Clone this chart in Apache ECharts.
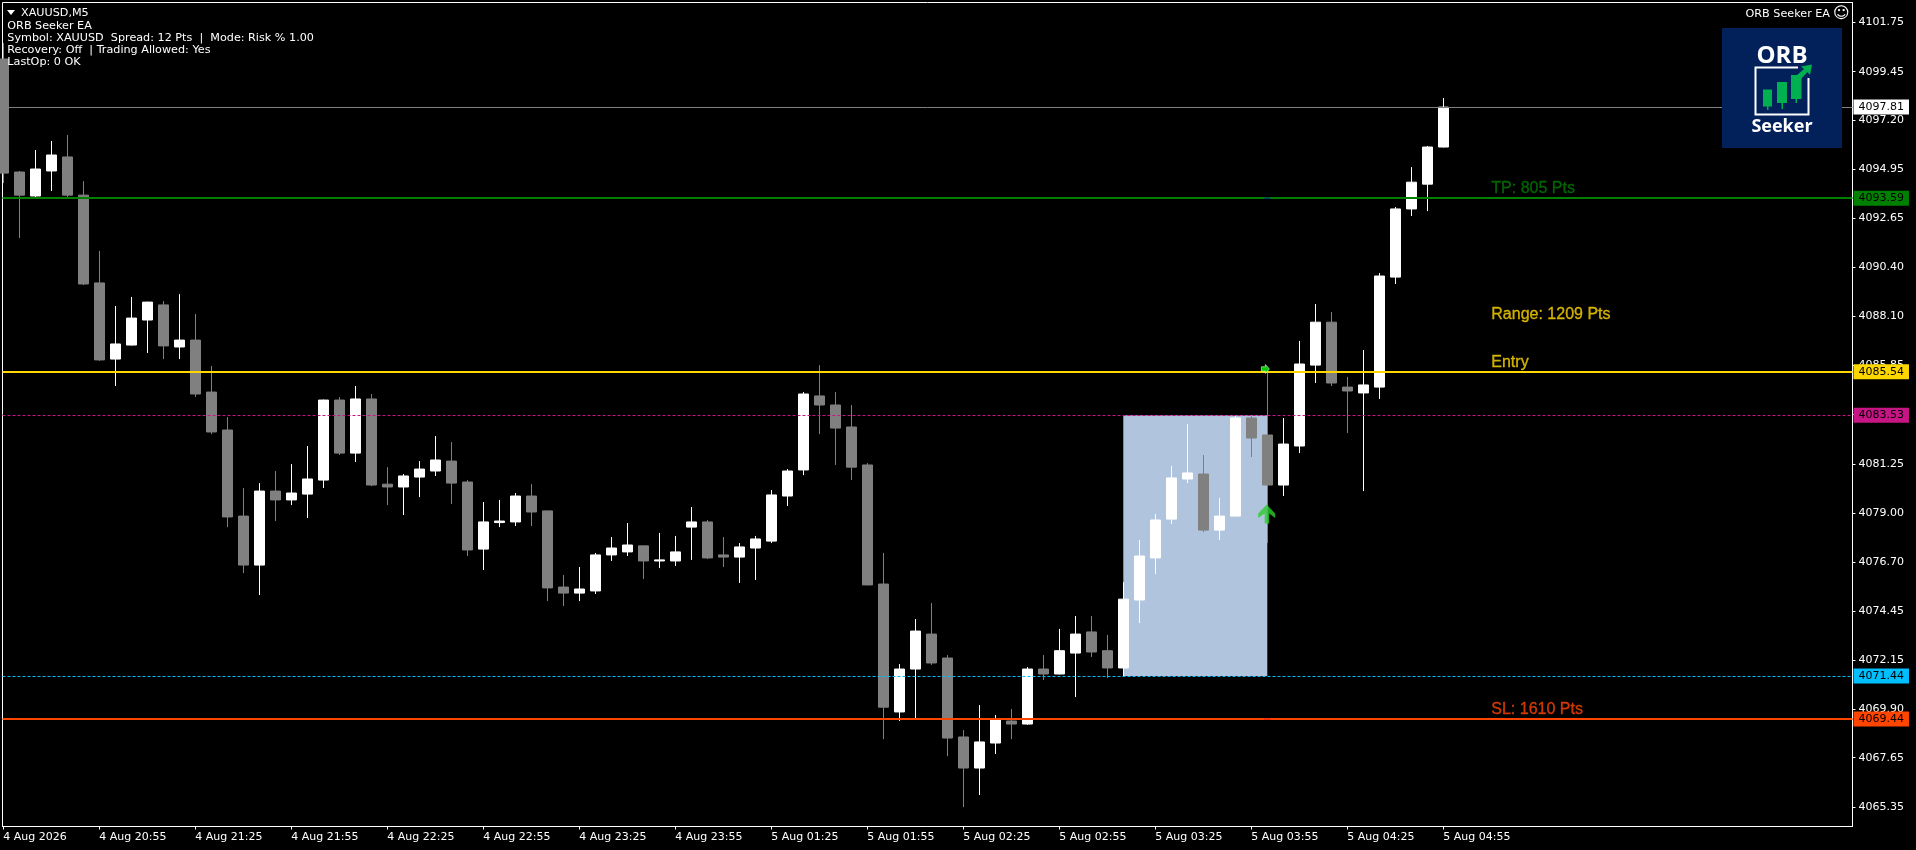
<!DOCTYPE html>
<html>
<head>
<meta charset="utf-8">
<style>html,body{margin:0;padding:0;background:#000}#c{width:1916px;height:850px}</style>
<script src="https://cdn.jsdelivr.net/npm/echarts@6/dist/echarts.min.js"></script>
</head>
<body>
<div id="c"></div>
<script>
// one entry per M5 bar, left to right: [open, close, low, high]
const candles = [
[4100.04,4094.75,4094.29,4100.78],[4094.80,4093.73,4091.74,4094.85],[4093.69,4094.94,4093.64,4095.82],[4094.85,4095.59,4093.92,4096.24],
[4095.50,4093.73,4093.64,4096.52],[4093.73,4089.61,4089.56,4094.38],[4089.66,4086.09,4086.05,4091.14],[4086.13,4086.83,4084.88,4088.59],
[4086.78,4088.03,4086.76,4089.01],[4087.94,4088.77,4086.41,4088.79],[4088.64,4086.74,4086.13,4088.82],[4086.69,4087.01,4086.13,4089.14],
[4087.01,4084.51,4084.37,4088.22],[4084.60,4082.75,4082.65,4085.81],[4082.84,4078.81,4078.34,4083.44],[4078.85,4076.58,4076.21,4080.15],
[4076.58,4080.01,4075.19,4080.38],[4080.01,4079.60,4078.62,4080.94],[4079.60,4079.92,4079.36,4081.26],[4079.87,4080.57,4078.76,4082.10],
[4080.52,4084.23,4080.15,4084.25],[4084.23,4081.77,4081.68,4084.37],[4081.77,4084.28,4081.36,4084.88],[4084.28,4080.29,4080.24,4084.51],
[4080.33,4080.20,4079.36,4081.12],[4080.20,4080.71,4078.90,4080.80],[4080.66,4081.03,4079.73,4081.40],[4080.94,4081.45,4080.71,4082.56],
[4081.40,4080.38,4079.41,4082.28],[4080.43,4077.28,4077.00,4080.52],[4077.32,4078.58,4076.35,4079.50],[4078.55,4078.62,4078.34,4079.60],
[4078.58,4079.78,4078.39,4079.92],[4079.78,4079.04,4078.39,4080.33],[4079.09,4075.52,4074.91,4079.10],[4075.56,4075.28,4074.68,4076.12],
[4075.28,4075.47,4074.91,4076.49],[4075.38,4077.05,4075.24,4077.14],[4077.05,4077.37,4076.77,4077.88],[4077.19,4077.51,4077.00,4078.53],
[4077.47,4076.77,4075.93,4077.48],[4076.77,4076.82,4076.44,4078.07],[4076.77,4077.19,4076.54,4077.93],[4078.34,4078.58,4076.82,4079.27],
[4078.58,4076.91,4076.86,4078.67],[4077.05,4076.95,4076.49,4077.88],[4076.95,4077.42,4075.75,4077.60],[4077.37,4077.79,4075.89,4077.93],
[4077.69,4079.83,4077.60,4080.06],[4079.78,4080.94,4079.32,4081.03],[4080.99,4084.51,4080.75,4084.60],[4084.42,4084.00,4082.65,4085.85],
[4084.00,4082.93,4081.22,4084.60],[4082.98,4081.12,4080.52,4084.00],[4081.22,4075.66,4075.64,4081.31],[4075.70,4069.99,4068.51,4077.14],
[4069.77,4071.76,4069.35,4071.99],[4071.76,4073.52,4069.49,4074.08],[4073.38,4072.04,4071.95,4074.82],[4072.27,4068.56,4067.72,4072.41],
[4068.61,4067.17,4065.36,4068.93],[4067.17,4068.38,4065.92,4070.09],[4068.33,4069.44,4067.82,4069.63],[4069.35,4069.21,4068.51,4069.91],
[4069.21,4071.76,4069.17,4071.85],[4071.76,4071.53,4071.25,4072.41],[4071.53,4072.61,4071.51,4073.62],[4072.50,4073.38,4070.46,4074.22],
[4073.48,4072.55,4072.32,4074.22],[4072.61,4071.81,4071.34,4073.34],[4071.81,4075.00,4071.39,4075.79],[4074.96,4077.00,4073.89,4077.74],
[4076.91,4078.67,4076.17,4078.95],[4078.71,4080.62,4078.48,4081.17],[4080.57,4080.85,4080.38,4083.12],[4080.80,4078.20,4078.11,4081.68],
[4078.20,4078.85,4077.74,4079.69],[4078.85,4083.40,4078.83,4083.49],[4083.40,4082.47,4081.59,4083.49],[4082.61,4080.29,4077.60,4085.62],
[4080.29,4082.19,4079.78,4083.40],[4082.10,4085.90,4081.77,4086.97],[4085.85,4087.84,4085.02,4088.68],[4087.84,4085.02,4084.88,4088.31],
[4084.83,4084.65,4082.70,4085.30],[4084.56,4084.93,4080.01,4086.55],[4084.83,4089.98,4084.28,4090.12],[4089.93,4093.09,4089.61,4093.18],
[4093.09,4094.33,4092.76,4095.03],[4094.24,4095.96,4092.99,4096.01],[4095.96,4097.81,4095.94,4098.23]
];
const timeLabels = ['4 Aug 2026','4 Aug 20:55','4 Aug 21:25','4 Aug 21:55','4 Aug 22:25','4 Aug 22:55','4 Aug 23:25','4 Aug 23:55','5 Aug 01:25','5 Aug 01:55','5 Aug 02:25','5 Aug 02:55','5 Aug 03:25','5 Aug 03:55','5 Aug 04:25','5 Aug 04:55'];
const barsPerLabel = 6;
const priceTicks = [4101.75,4099.45,4097.20,4094.95,4092.65,4090.40,4088.10,4085.85,4083.55,4081.25,4079.00,4076.70,4074.45,4072.15,4069.90,4067.65,4065.35];
const levelPrices = [4097.81,4093.59,4085.54,4083.53,4071.44,4069.44];
const rangeBars = [70,79];
const rangePrices = [4083.53,4071.44];
const noteTexts = ['TP: 805 Pts','Range: 1209 Pts','Entry','SL: 1610 Pts'];
const notePrices = [4094.04,4088.17,4085.97,4069.90];
const noteBar = 93;
const infoLines = ['ORB Seeker EA','Symbol: XAUUSD  Spread: 12 Pts  |  Mode: Risk % 1.00','Recovery: Off  | Trading Allowed: Yes','LastOp: 0 OK'];

const FONT = '"DejaVu Sans"';
const levelStyles = [
  {color:'#808080',width:1,type:'solid',bg:'#FFFFFF'},
  {color:'#008000',width:2,type:'solid',bg:'#008000'},
  {color:'#FFD700',width:2,type:'solid',bg:'#FFD700'},
  {color:'#C71585',width:1,type:[3,2],bg:'#C71585'},
  {color:'#00BFFF',width:1,type:[3,2],bg:'#00BFFF'},
  {color:'#FF4500',width:2,type:'solid',bg:'#FF4500'}
];
const noteColors = ['#007A00','#FFD700','#FFD700','#FF4500'];
const tickValues = timeLabels.map((_,k)=>k*barsPerLabel);

const chart = echarts.init(document.getElementById('c'),null,{renderer:'canvas'});

const txt = (x,y,text,extra)=>({type:'text',z:100,silent:true,x,y,style:Object.assign({text,fill:'#fff',font:'11.2px '+FONT,textVerticalAlign:'middle'},extra||{})});
const infoY = [25.7,37.7,49.7,61.7];
const graphic = [
  {type:'polygon',z:100,silent:true,shape:{points:[[7,10],[15,10],[11,15]]},style:{fill:'#fff'}},
  txt(21,13,'XAUUSD,M5')
].concat(infoLines.map((s,k)=>txt(7.3,infoY[k],s)));
graphic.push(
  txt(1745.5,14,'ORB Seeker EA'),
  txt(1833,13.5,'\u263A',{font:'16px '+FONT}),
  // logo badge
  {type:'rect',z:100,silent:true,shape:{x:1722,y:28,width:120,height:120},style:{fill:'#02215A'}},
  txt(1782,56,'ORB',{font:'bold 24px "Open Sans"',textAlign:'center'}),
  {type:'polyline',z:101,silent:true,shape:{points:[[1798,67.5],[1755.5,67.5],[1755.5,114.5],[1808.5,114.5],[1808.5,78]]},style:{stroke:'#fff',lineWidth:2,fill:null}},
  {type:'rect',z:101,silent:true,shape:{x:1763,y:89.5,width:9,height:17},style:{fill:'#00B050'}},
  {type:'rect',z:101,silent:true,shape:{x:1767,y:105,width:1.5,height:5},style:{fill:'#00B050'}},
  {type:'rect',z:101,silent:true,shape:{x:1777,y:82,width:10,height:21},style:{fill:'#00B050'}},
  {type:'rect',z:101,silent:true,shape:{x:1781.5,y:102,width:1.5,height:7},style:{fill:'#00B050'}},
  {type:'rect',z:101,silent:true,shape:{x:1791,y:75,width:10.5,height:24},style:{fill:'#00B050'}},
  {type:'rect',z:101,silent:true,shape:{x:1795.5,y:98,width:1.5,height:5},style:{fill:'#00B050'}},
  {type:'polygon',z:102,silent:true,shape:{points:[[1797,75],[1804,69],[1801,66.5],[1812,64.5],[1810,75],[1807.5,72],[1801,79]]},style:{fill:'#00B050'}},
  txt(1782,127,'Seeker',{font:'bold 18px "Open Sans"',textAlign:'center'})
);

chart.setOption({
  animation:false,
  backgroundColor:'#000',
  graphic,
  grid:{left:2.5,top:2.5,right:63.5,bottom:23.5,show:true,borderColor:'#fff',borderWidth:1,backgroundColor:'#000'},
  xAxis:{
    type:'value',min:-0.05,max:115.575,
    splitLine:{show:false},
    axisLine:{show:true,onZero:false,lineStyle:{color:'#fff',width:1}},
    axisTick:{show:true,length:3,customValues:tickValues,lineStyle:{color:'#fff'}},
    axisLabel:{color:'#fff',fontFamily:FONT,fontSize:11,align:'left',margin:5,padding:[0,2,0,0],customValues:tickValues,
      formatter:v=>timeLabels[Math.round(v/barsPerLabel)]||''}
  },
  yAxis:{
    type:'value',position:'right',min:4064.46,max:4102.66,
    splitLine:{show:false},
    axisLine:{show:true,onZero:false,lineStyle:{color:'#fff',width:1}},
    axisTick:{show:true,length:3,customValues:priceTicks,lineStyle:{color:'#fff'}},
    axisLabel:{color:'#fff',fontFamily:FONT,fontSize:11,margin:6,customValues:priceTicks,formatter:v=>v.toFixed(2)}
  },
  series:[
    {
      type:'candlestick',z:2,barWidth:10,
      data:candles.map((c,i)=>[i,c[0],c[1],c[2],c[3]]),
      encode:{x:0,y:[1,2,3,4]},
      itemStyle:{color:'#fff',color0:'#808080',borderColor:'#fff',borderColor0:'#808080',borderWidth:1},
      markArea:{silent:true,z:1,itemStyle:{color:'#B0C4DE',opacity:1},
        data:[[{coord:[rangeBars[0],rangePrices[0]]},{coord:[rangeBars[1],rangePrices[1]]}]]},
      markLine:{silent:true,z:5,symbol:'none',animation:false,
        data:levelPrices.map((p,k)=>({
          yAxis:p,
          lineStyle:{color:levelStyles[k].color,width:levelStyles[k].width,type:levelStyles[k].type,opacity:1},
          label:{show:true,position:'end',distance:1,formatter:()=>p.toFixed(2),color:'#000',fontFamily:FONT,fontSize:11,
            lineHeight:12,backgroundColor:levelStyles[k].bg,padding:[2,5,1,5]}
        }))}
    },
    {
      type:'scatter',z:6,silent:true,symbolSize:0,clip:false,
      data:noteTexts.map((t,k)=>({value:[noteBar,notePrices[k]],
        label:{show:true,position:'right',distance:0,formatter:t,color:noteColors[k],fontFamily:'"Liberation Sans"',fontSize:16,
          textBorderColor:noteColors[k],textBorderWidth:0.3}}))
    },
    {
      type:'scatter',z:7,silent:true,
      data:[
        {value:[78.96,4078.95],symbol:'path://M8.5,0 L17,9 L17,13.5 L11,9 L11,19 L6.5,19 L6.5,9 L0,13.5 L0,9 Z',symbolSize:[17,19],itemStyle:{color:'#2ECC2E'}},
        {value:[78.88,4085.67],symbol:'path://M0,2 L4,2 L4,0 L8,4 L4,8 L4,6 L0,6 Z',symbolSize:[8,9],itemStyle:{color:'#00FF00',borderColor:'#fff',borderWidth:0.7}},
        {value:[79,4093.59],symbol:'rect',symbolSize:[6,1],itemStyle:{color:'#0000CC'}},
        {value:[79,4069.44],symbol:'rect',symbolSize:[7,1],itemStyle:{color:'#E01010'}}
      ]
    }
  ]
});
</script>
</body>
</html>
